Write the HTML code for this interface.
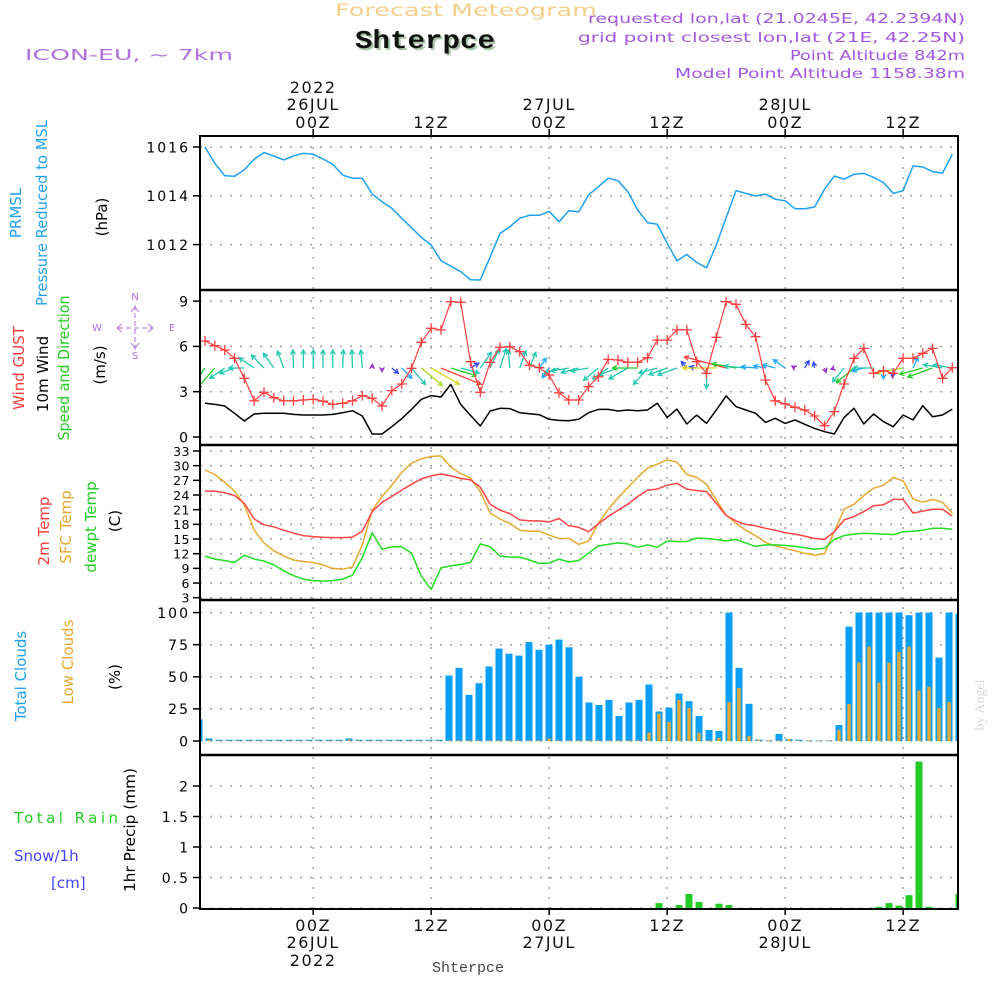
<!DOCTYPE html>
<html><head><meta charset="utf-8"><title>Meteogram Shterpce</title>
<style>
html,body{margin:0;padding:0;background:#fff;}
svg{display:block;}
text{font-family:"DejaVu Sans","Liberation Sans",sans-serif;}
</style></head>
<body>
<svg id="chart" width="1000" height="1000" viewBox="0 0 1000 1000" xmlns="http://www.w3.org/2000/svg">
<defs>
<clipPath id="clipAll"><rect x="201" y="137" width="756" height="771"/></clipPath>
</defs>
<text x="335" y="16" font-size="17" fill="#f3cf8c" textLength="262" lengthAdjust="spacingAndGlyphs">Forecast Meteogram</text>
<text x="357" y="50" font-size="26" font-weight="bold" fill="#a9c4a9" style="font-family:'Liberation Mono',monospace" textLength="140" lengthAdjust="spacingAndGlyphs">Shterpce</text>
<text x="355" y="48" font-size="26" font-weight="bold" fill="#111" style="font-family:'Liberation Mono',monospace" textLength="140" lengthAdjust="spacingAndGlyphs">Shterpce</text>
<text x="25" y="60" font-size="15" fill="#b070e0" textLength="208" lengthAdjust="spacingAndGlyphs">ICON-EU, ~ 7km</text>
<text x="588" y="23" font-size="13" fill="#a356e0" textLength="377" lengthAdjust="spacingAndGlyphs">requested lon,lat (21.0245E, 42.2394N)</text>
<text x="578" y="42" font-size="13" fill="#a356e0" textLength="387" lengthAdjust="spacingAndGlyphs">grid point closest lon,lat (21E, 42.25N)</text>
<text x="790" y="60" font-size="13" fill="#a356e0" textLength="175" lengthAdjust="spacingAndGlyphs">Point Altitude 842m</text>
<text x="675" y="78" font-size="13" fill="#a356e0" textLength="290" lengthAdjust="spacingAndGlyphs">Model Point Altitude 1158.38m</text>

<g font-size="15">
<text transform="translate(21,213) rotate(-90)" text-anchor="middle" fill="#1ea0f0">PRMSL</text>
<text transform="translate(47,213) rotate(-90)" text-anchor="middle" fill="#1ea0f0" textLength="186" lengthAdjust="spacingAndGlyphs">Pressure Reduced to MSL</text>
<text transform="translate(107,217) rotate(-90)" text-anchor="middle" fill="#000">(hPa)</text>
<text transform="translate(24,368) rotate(-90)" text-anchor="middle" fill="#ff3b3b">Wind GUST</text>
<text transform="translate(48,374) rotate(-90)" text-anchor="middle" fill="#000">10m Wind</text>
<text transform="translate(69,368) rotate(-90)" text-anchor="middle" fill="#22cc22" textLength="145" lengthAdjust="spacingAndGlyphs">Speed and Direction</text>
<text transform="translate(105,365) rotate(-90)" text-anchor="middle" fill="#000">(m/s)</text>
<text transform="translate(49,531) rotate(-90)" text-anchor="middle" fill="#ff3b3b">2m Temp</text>
<text transform="translate(71,527) rotate(-90)" text-anchor="middle" fill="#e8a830">SFC Temp</text>
<text transform="translate(96,527) rotate(-90)" text-anchor="middle" fill="#22cc22">dewpt Temp</text>
<text transform="translate(120,521) rotate(-90)" text-anchor="middle" fill="#000">(C)</text>
<text transform="translate(26,676) rotate(-90)" text-anchor="middle" fill="#1ea0f0">Total Clouds</text>
<text transform="translate(73,662) rotate(-90)" text-anchor="middle" fill="#e8a830">Low Clouds</text>
<text transform="translate(120,677) rotate(-90)" text-anchor="middle" fill="#000">(%)</text>
<text x="14" y="823" fill="#22cc22" textLength="104" lengthAdjust="spacing">Total  Rain</text>
<text x="14" y="861" fill="#4444ff">Snow/1h</text>
<text x="51" y="888" fill="#4444ff">[cm]</text>
<text transform="translate(135,830) rotate(-90)" text-anchor="middle" fill="#000" textLength="124" lengthAdjust="spacingAndGlyphs">1hr Precip (mm)</text>
<text transform="translate(984,705) rotate(-90)" text-anchor="middle" fill="#d8d8d8" font-size="14" style="font-family:'Liberation Serif',serif">by Angel</text>
</g>

<g stroke="#b070e0" fill="none" stroke-width="1">
<line x1="118" y1="328" x2="152" y2="328" stroke-dasharray="5 3"/>
<line x1="135" y1="305" x2="135" y2="350" stroke-dasharray="5 3"/>
<polyline points="122,324 117,328 122,332"/>
<polyline points="148,324 153,328 148,332"/>
<polyline points="131,312 135,307 139,312"/>
<polyline points="131,343 135,348 139,343"/>
</g>
<g font-size="10" fill="#b070e0" text-anchor="middle">
<text x="135" y="300">N</text>
<text x="135" y="359">S</text>
<text x="97" y="331">W</text>
<text x="172" y="331">E</text>
</g>

<g id="grid"></g>
<g id="marks" clip-path="url(#clipAll)"></g>
<g id="axes"></g>
</svg>
<script>
const hourStart = 13;
const pressure = [1016.0,1015.33,1014.82,1014.8,1015.06,1015.5,1015.77,1015.63,1015.47,1015.64,1015.74,1015.7,1015.51,1015.29,1014.85,1014.72,1014.72,1014.07,1013.76,1013.49,1013.08,1012.69,1012.3,1011.98,1011.34,1011.12,1010.89,1010.56,1010.55,1011.5,1012.46,1012.73,1013.08,1013.2,1013.2,1013.36,1012.94,1013.39,1013.34,1014.03,1014.37,1014.72,1014.62,1014.17,1013.42,1012.9,1012.83,1012.05,1011.33,1011.6,1011.27,1011.05,1011.98,1013.1,1014.21,1014.1,1013.99,1014.07,1013.86,1013.8,1013.47,1013.47,1013.54,1014.27,1014.81,1014.68,1014.88,1014.92,1014.76,1014.54,1014.1,1014.21,1015.22,1015.18,1014.99,1014.93,1015.7];
const gust = [6.36,6.05,5.76,5.21,3.89,2.4,2.96,2.6,2.4,2.4,2.45,2.5,2.38,2.16,2.23,2.4,2.74,2.56,2.05,3.07,3.51,4.55,6.27,7.2,7.09,8.96,8.92,4.99,2.96,4.95,5.94,5.98,5.65,4.75,4.59,4.1,2.93,2.45,2.45,3.33,3.99,5.14,5.1,4.95,4.95,5.25,6.42,6.42,7.09,7.09,4.99,4.22,6.6,8.96,8.79,7.46,6.64,3.77,2.4,2.19,1.97,1.79,1.39,0.75,1.68,3.51,5.21,5.87,4.22,4.39,4.22,5.21,5.21,5.54,5.87,3.89,4.59];
const wind10 = [2.23,2.16,2.05,1.57,1.06,1.52,1.57,1.57,1.57,1.5,1.46,1.46,1.46,1.5,1.61,1.74,1.39,0.2,0.2,0.68,1.21,1.83,2.5,2.74,2.65,3.49,2.16,1.43,0.73,1.72,1.9,1.88,1.61,1.54,1.48,1.17,1.1,1.08,1.17,1.61,1.83,1.83,1.72,1.79,1.74,1.79,2.23,1.3,1.85,0.86,1.46,0.9,1.79,2.72,2.01,1.79,1.57,0.97,1.24,0.9,1.13,0.84,0.57,0.35,0.2,1.3,1.9,0.86,1.52,1.01,0.68,1.46,1.13,2.07,1.34,1.46,1.85];
const windArrowDir = [235,229,215,200,180,146,134,125,110,92,90,90,90,90,88,92,95,90,270,320,315,310,320,330,338,343,345,30,55,65,72,95,70,68,55,235,200,190,195,190,220,215,200,210,180,230,195,200,200,130,170,270,180,165,170,175,175,170,165,145,150,60,100,290,200,230,220,195,180,270,265,190,65,195,200,170,170];
const windArrowMag = [2.2,2.2,1.5,1.3,1.3,1.5,1.5,1.5,1.5,1.5,1.5,1.5,1.5,1.5,1.5,1.5,1.5,0.3,0.3,0.7,1.2,1.8,2.3,2.7,3.6,2.2,1.6,0.8,1.6,1.7,1.7,1.5,1.5,1.4,1.0,1.0,1.3,1.5,1.5,1.5,1.6,1.6,1.7,1.8,2.1,1.8,1.6,1.6,1.7,0.7,0.6,1.7,2.8,3.6,2.0,1.8,1.2,1.0,1.1,1.2,0.3,0.7,0.5,0.4,0.3,1.5,1.9,1.0,1.7,0.9,0.8,2.3,1.0,2.0,2.2,1.6,1.6];
const temp2m = [24.8,24.8,24.5,23.9,22.3,19.1,17.9,17.5,16.8,16.2,15.7,15.5,15.35,15.3,15.3,15.4,16.6,20.6,22.5,23.7,25.0,26.2,27.3,27.9,28.3,27.9,27.4,27.1,25.6,22.1,20.9,20.2,18.9,18.7,18.7,18.5,19.2,17.7,17.4,16.5,18.1,19.6,20.9,22.1,23.7,25.0,25.2,26.0,26.4,25.2,24.9,24.7,22.3,19.8,18.7,18.0,17.7,17.2,16.8,16.3,16.0,15.6,15.1,14.9,16.5,18.9,19.6,20.6,21.8,22.0,23.1,23.1,20.3,20.7,21.1,21.1,19.7];
const tempSfc = [29.1,28.2,26.6,24.8,22.0,16.8,14.2,12.6,11.5,10.7,10.4,10.2,9.7,9.0,8.8,9.3,13.8,20.9,23.7,26.0,28.6,30.5,31.4,31.9,32.0,29.7,28.4,27.5,24.7,20.3,19.1,18.2,16.8,16.6,16.6,15.8,15.1,15.1,13.9,14.6,18.2,21.1,23.4,25.5,27.6,29.5,30.3,31.2,30.7,28.2,27.6,26.2,23.0,19.9,18.2,16.8,15.7,14.3,13.6,13.1,12.6,12.1,11.7,12.0,16.5,21.1,22.1,23.9,25.4,26.0,27.6,26.9,23.2,22.5,23.1,22.5,20.3];
const dewpoint = [11.5,10.9,10.6,10.2,11.7,10.9,10.5,9.7,8.5,7.5,6.8,6.5,6.4,6.5,6.8,7.6,11.2,16.3,12.9,13.4,13.4,12.1,7.4,4.7,9.1,9.5,9.8,10.2,14.0,13.4,11.5,11.3,11.3,10.7,10.0,10.1,10.9,10.3,10.6,12.1,13.6,13.9,14.2,14.0,13.3,13.8,13.3,14.6,14.5,14.5,15.2,15.1,14.9,14.6,14.9,14.2,13.5,13.8,13.8,13.7,13.5,13.2,12.9,13.1,14.9,15.7,16.0,16.2,16.1,16.0,15.9,16.5,16.6,16.8,17.2,17.2,17.0];
const totalClouds = [17,2,1,1,1,1,1,1,1,1,1,1,1,1,1,2,1,1,1,1,1,1,1,1,1,51,57,36,45,58,72,68,66.5,77,71,75,79,73,50,30,28,32,19.5,30,32,44,23,26,37,31,19.5,8.6,7.8,100,57,29,1.2,0.5,5.5,1.5,1,0.5,0.5,0.5,12.5,89,100,100,100,100,100,98,100,100,65,100,99];
const lowClouds = [16,1,0.5,0.5,0.5,0.5,0.5,0.5,0.5,0.5,0.5,0.5,0.5,0.5,0.5,1,0.5,0.5,0.5,0.5,0.5,0.5,0.5,0.5,0.5,0.5,0.5,0.5,0.5,0.5,0.5,0.5,0.5,0.5,0.5,2,0.5,0.5,0.5,0.5,0.5,0.5,0.5,0.5,0.5,6.5,21.3,14.8,31.9,25.7,6.5,0.5,2.3,30.4,41.3,3.9,1,0.5,0.5,1.5,0.5,0.5,0.5,0.5,8.6,28.8,61,73.5,45.4,61,69.3,73.5,39.2,42.3,25.7,30.4,50.1];
const precip = [0,0,0,0,0,0,0,0,0,0, 0,0,0,0,0,0,0,0,0,0, 0,0,0,0,0,0,0,0,0,0, 0,0,0,0,0,0,0,0,0,0, 0,0,0,0,0,0.08,0,0.05,0.23,0.1, 0,0.07,0.05,0,0,0,0,0,0,0, 0,0,0,0,0,0,0,0.02,0.08,0.04, 0.21,2.4,0.02,0,0,0.23];
const pressureTicks = [1016,1014,1012];
const windTicks = [9,6,3,0];
const tempTicks = [33,30,27,24,21,18,15,12,9,6,3];
const cloudTicks = [100,75,50,25,0];
const precipTicks = [2,1.5,1,0.5,0];
const precipTickLabels = ["2","1.5","1","0.5","0"];
const timeLabelHours = [11,23,35,47,59,71];
const timeLabelZ = ["00Z","12Z","00Z","12Z","00Z","12Z"];
const timeLabelDay = ["26JUL","","27JUL","","28JUL",""];
const timeLabelYear = ["2022","","","","",""];

const NS = "http://www.w3.org/2000/svg";
const X0 = 200, X1 = 958;
const xT = i => 205 + i * 9.833;
const xB = k => 209 + k * 10.0;
const yP = p => 147 + (1016 - p) * 24.4;
const yW = v => 437 - v * 15.1;
const yTemp = t => 597.7 - (t - 3) * 4.89;
const yC = v => 741 - v * 1.284;
const yR = v => 908 - v * 61;

const gridG = document.getElementById('grid');
const marksG = document.getElementById('marks');
const axesG = document.getElementById('axes');
function mk(tag, attrs, parent) {
  const e = document.createElementNS(NS, tag);
  for (const k in attrs) e.setAttribute(k, attrs[k]);
  parent.appendChild(e);
  return e;
}

function hAxis(ticks, labels, yf, fs, name) {
  ticks.forEach((t, j) => {
    const y = yf(t);
    const g = mk('line', {x1: X0, x2: X1, y1: y, y2: y, stroke: '#a0a0a0', 'stroke-width': 1.5, 'stroke-dasharray': '2 8'}, gridG);
    
    
    const tk = mk('line', {x1: 193, x2: 200, y1: y, y2: y, stroke: '#000', 'stroke-width': 1.5}, axesG);
    
    
    const tx = mk('text', {x: 190, y: y + fs * 0.38, 'text-anchor': 'end', 'font-size': fs, fill: '#000', 'letter-spacing': fs > 13 ? 2 : 0.5}, axesG);
    
    
    tx.textContent = labels[j];
  });
}
hAxis(pressureTicks, pressureTicks.map(String), yP, 14, 'pressure');
hAxis(windTicks, windTicks.map(String), yW, 14, 'wind');
hAxis(tempTicks, tempTicks.map(String), yTemp, 12.5, 'temp');
hAxis(cloudTicks, cloudTicks.map(String), yC, 14, 'cloud');
hAxis(precipTicks, precipTickLabels, yR, 14, 'precip');

timeLabelHours.forEach((h, j) => {
  const x = xT(h);
  const v = mk('line', {x1: x, x2: x, y1: 137, y2: 908, stroke: '#a0a0a0', 'stroke-width': 1.5, 'stroke-dasharray': '2 8'}, gridG);
  
  
  [[129, 136], [908, 915]].forEach(([a, b]) => {
    const t = mk('line', {x1: x, x2: x, y1: a, y2: b, stroke: '#000', 'stroke-width': 1.5}, axesG);
    
    
  });
  const put = (txt, y, nm) => {
    if (!txt) return;
    const e = mk('text', {x: x, y: y, 'text-anchor': 'middle', 'font-size': 16, fill: '#111', 'letter-spacing': 1.5}, axesG);
    
    
    e.textContent = txt;
  };
  put(timeLabelYear[j], 93, 'top-year-label');
  put(timeLabelDay[j], 110, 'top-day-label');
  put(timeLabelZ[j], 128, 'top-hour-label');
  put(timeLabelZ[j], 931, 'bottom-hour-label');
  put(timeLabelDay[j], 948, 'bottom-day-label');
  put(timeLabelYear[j], 966, 'bottom-year-label');
});
const bl = mk('text', {x: 468, y: 972, 'text-anchor': 'middle', 'font-size': 15, fill: '#444', style: "font-family:'Liberation Mono',monospace"}, axesG);


bl.textContent = 'Shterpce';

const fr = mk('rect', {x: 200, y: 136, width: 758, height: 773, fill: 'none', stroke: '#000', 'stroke-width': 2}, axesG);


[290, 445, 600, 755].forEach(y => {
  const s = mk('line', {x1: 200, x2: 958, y1: y, y2: y, stroke: '#000', 'stroke-width': 2.5}, axesG);
  
  
});

function line(arr, yf, color, name, w) {
  const pts = arr.map((v, i) => xT(i).toFixed(1) + ',' + yf(v).toFixed(1)).join(' ');
  const p = mk('polyline', {points: pts, fill: 'none', stroke: color, 'stroke-width': w || 1.5, 'stroke-linejoin': 'round'}, marksG);
  
  
}
line(pressure, yP, '#1ea0f0', 'pressure-line');
line(wind10, yW, '#000', 'wind10-line');

function arrowColor(m) {
  if (m < 0.5) return '#9a30d0';
  if (m < 0.9) return '#3344ff';
  if (m < 1.3) return '#20a8ff';
  if (m < 1.9) return '#20c8b0';
  if (m < 2.3) return '#22cc22';
  if (m < 2.7) return '#a8dd22';
  if (m < 3.2) return '#e0d820';
  return '#ff4040';
}
windArrowDir.forEach((d, i) => {
  const m = windArrowMag[i];
  const L = m * 12;
  const a = d * Math.PI / 180;
  const x0 = xT(i), y0 = 368;
  const x1 = x0 + L * Math.cos(a), y1 = y0 - L * Math.sin(a);
  const h = 5, s = 0.5;
  const hx1 = x1 - h * Math.cos(a - s), hy1 = y1 + h * Math.sin(a - s);
  const hx2 = x1 - h * Math.cos(a + s), hy2 = y1 + h * Math.sin(a + s);
  const p = mk('path', {d: `M${x0.toFixed(1)},${y0} L${x1.toFixed(1)},${y1.toFixed(1)} M${hx1.toFixed(1)},${hy1.toFixed(1)} L${x1.toFixed(1)},${y1.toFixed(1)} L${hx2.toFixed(1)},${hy2.toFixed(1)}`, fill: 'none', stroke: arrowColor(m), 'stroke-width': 1.3}, marksG);
  
  
});

line(gust, yW, '#ff4040', 'gust-line', 1.2);
gust.forEach((v, i) => {
  const x = xT(i), y = yW(v);
  const c = mk('path', {d: `M${(x - 5).toFixed(1)},${y.toFixed(1)}H${(x + 5).toFixed(1)}M${x.toFixed(1)},${(y - 5).toFixed(1)}V${(y + 5).toFixed(1)}`, stroke: '#ff4040', 'stroke-width': 1.3}, marksG);
  
  
});

line(tempSfc, yTemp, '#e8a830', 'sfc-temp-line');
line(temp2m, yTemp, '#ff4444', 't2m-line');
line(dewpoint, yTemp, '#22dd22', 'dewpoint-line');

totalClouds.forEach((v, j) => {
  const k = j - 1;
  const x = xB(k);
  const y = yC(v);
  const r = mk('rect', {x: (x - 3.5).toFixed(1), y: y.toFixed(1), width: 7, height: Math.max(0.8, yC(0) - y).toFixed(1), fill: '#079ff7'}, marksG);
  
  
  const lv = lowClouds[j];
  const yl = yC(lv);
  const o = mk('rect', {x: (x - 1.7).toFixed(1), y: yl.toFixed(1), width: 3.4, height: Math.max(0.8, yC(0) - yl).toFixed(1), fill: '#e8a830'}, marksG);
  
  
});

precip.forEach((v, k) => {
  if (v <= 0) return;
  const x = xB(k), y = yR(v);
  const r = mk('rect', {x: (x - 3.5).toFixed(1), y: y.toFixed(1), width: 7, height: (yR(0) - y).toFixed(1), fill: '#22cc22'}, marksG);
  
  
});
</script>
</body></html>
